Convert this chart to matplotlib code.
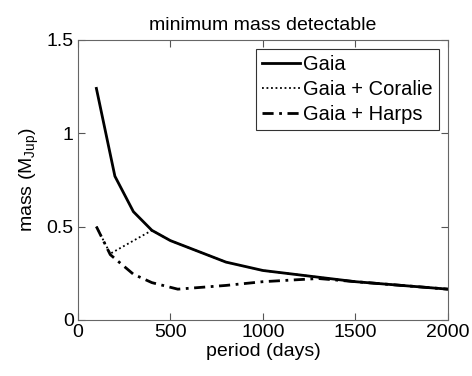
import matplotlib
matplotlib.use("Agg")
import matplotlib.pyplot as plt

plt.rcParams['font.family'] = ['Liberation Sans', 'DejaVu Sans']
plt.rcParams['mathtext.fontset'] = 'custom'
plt.rcParams['mathtext.rm'] = 'Liberation Sans'
plt.rcParams['mathtext.it'] = 'Liberation Sans'

gaia_x = [100, 200, 300, 400, 500, 800, 1000, 1500, 2000]
gaia_y = [1.24, 0.77, 0.58, 0.48, 0.425, 0.31, 0.265, 0.205, 0.165]

coralie_x = [100, 175, 400, 500, 800, 1000, 1500, 2000]
coralie_y = [0.50, 0.355, 0.48, 0.425, 0.31, 0.265, 0.205, 0.165]

harps_x = [100, 175, 300, 400, 540, 800, 1000, 1300, 1500, 2000]
harps_y = [0.50, 0.35, 0.245, 0.20, 0.165, 0.185, 0.205, 0.222, 0.205, 0.165]

labels = ['Gaia', 'Gaia + Coralie', 'Gaia + Harps']

fig = plt.figure(figsize=(4.72, 3.76), dpi=100)
ax = fig.add_axes([0.165, 0.149, 0.784, 0.745])

ax.plot(gaia_x, gaia_y, color='black', lw=2.0, ls='-', label=labels[0])
ax.plot(coralie_x, coralie_y, color='black', lw=1.3, ls=(0, (1, 1.5)), label=labels[1])
ax.plot(harps_x, harps_y, color='black', lw=2.0, ls=(0, (4, 2, 1, 2)), label=labels[2])

ax.set_xlim(0, 2000)
ax.set_ylim(0, 1.5)
ax.set_xticks([0, 500, 1000, 1500, 2000])
ax.set_yticks([0, 0.5, 1, 1.5])
ax.set_yticklabels(['0', '0.5', '1', '1.5'])
ax.tick_params(direction='in', top=True, right=True, labelsize=14, length=5,
               color='#555555', width=0.8, pad=3)
for s in ax.spines.values():
    s.set_color('#666666')
    s.set_linewidth(0.8)

ax.set_xlabel('period (days)', fontsize=14, labelpad=1)
ax.set_ylabel(r'mass (M$_{\mathrm{Jup}}$)', fontsize=14, labelpad=4)
ax.set_title('minimum mass detectable', fontsize=14, pad=7)

leg = ax.legend(loc='upper right', fontsize=14.5, frameon=True, fancybox=False,
                edgecolor='black', handlelength=1.9, handletextpad=0.15,
                borderpad=0.3, labelspacing=0.3, borderaxespad=0.45)
leg.get_frame().set_linewidth(0.8)

fig.savefig('out.png', dpi=100)
